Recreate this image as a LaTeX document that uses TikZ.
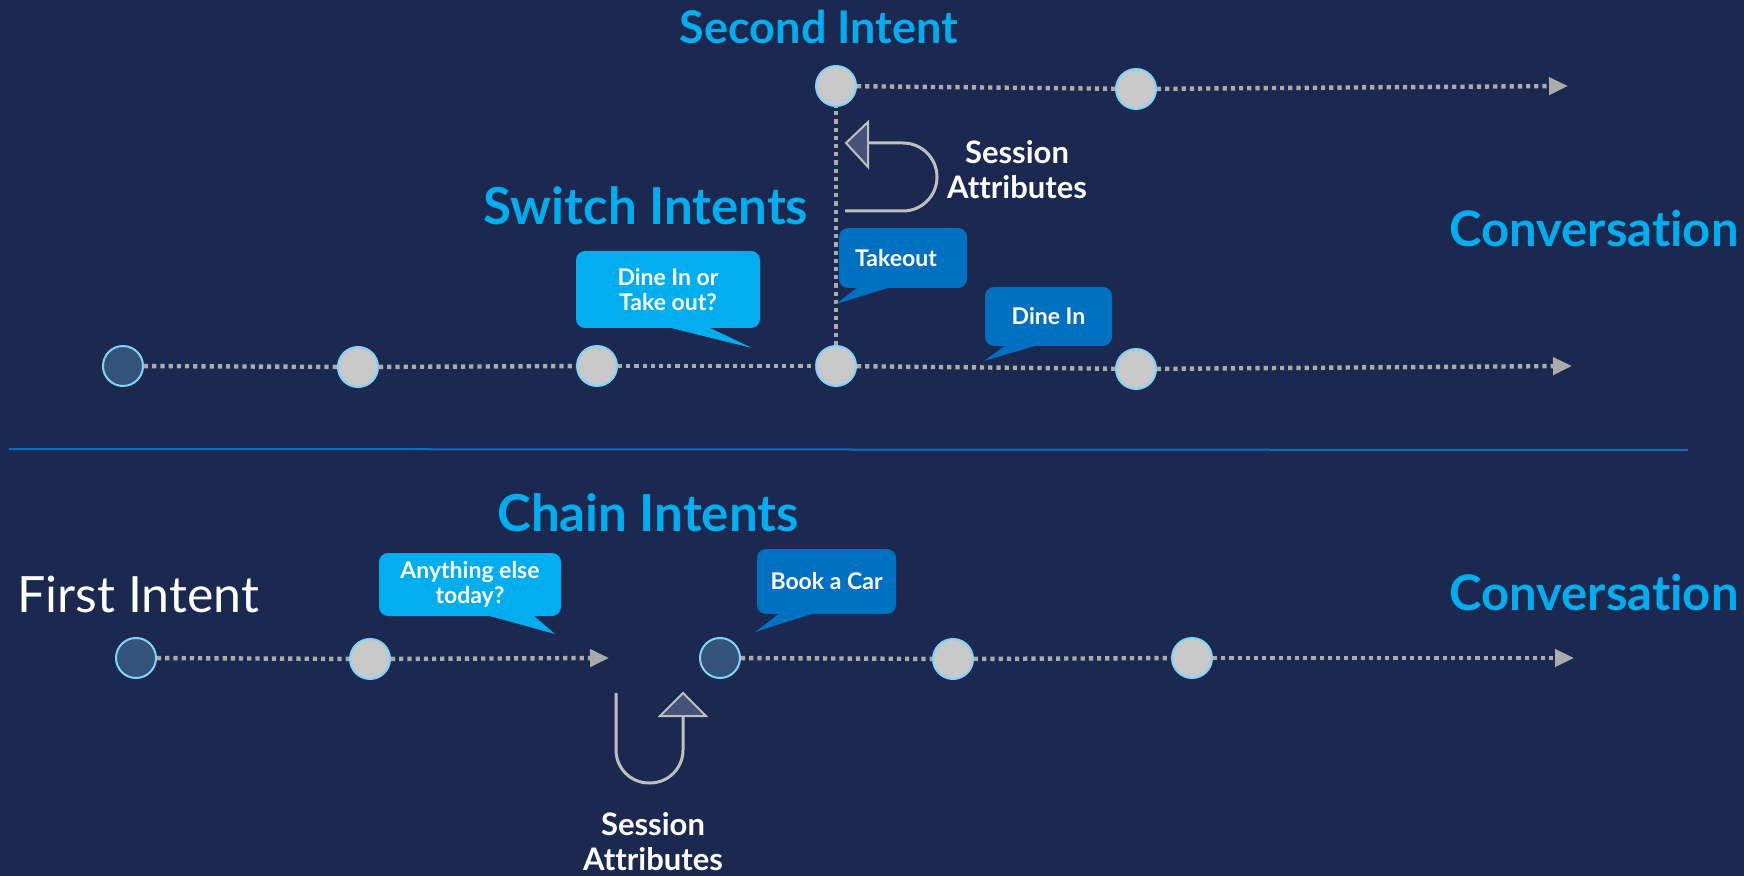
\documentclass[tikz,border=0pt]{standalone}
\usepackage{fontspec}
\setmainfont{Lato}[Ligatures=NoCommon]
\usepackage{tikz}
\usetikzlibrary{arrows.meta}

\definecolor{navy}{HTML}{1B2850}
\definecolor{skyblue}{HTML}{00AEEF}
\definecolor{deepblue}{HTML}{0070C0}
\definecolor{dotgrey}{HTML}{ABABAB}
\definecolor{pointgrey}{HTML}{C8C8C8}
\definecolor{pointedge}{HTML}{7FD4F8}
\definecolor{pointdark}{HTML}{34537B}
\definecolor{headfill}{HTML}{465277}
\definecolor{turngrey}{HTML}{BFBFBF}

\tikzset{
  waypoint/.style={circle, minimum size=20pt, inner sep=0pt, fill=pointgrey, draw=pointedge, line width=1pt},
  startpoint/.style={waypoint, fill=pointdark},
  dotline/.style={draw=dotgrey, line width=2.2pt, dash pattern=on 2.1pt off 2pt},
  dotarrow/.style={dotline, -{Triangle[length=9.5pt,width=8.5pt,fill=dotgrey]}},
  headline/.style={text=skyblue, inner sep=0pt, font=\bfseries\fontsize{24.5}{28}\selectfont},
  note/.style={text=white, align=center, inner sep=0pt, font=\bfseries\fontsize{15.5}{17.5}\selectfont},
  bubble/.style={fill=skyblue, text=white, rounded corners=4.5pt, align=center, inner sep=0pt, font=\bfseries\fontsize{11.5}{12.5}\selectfont},
  turn/.style={draw=turngrey, line width=1.5pt},
  turnhead/.style={fill=headfill, draw=turngrey, line width=1pt, line join=miter}
}

\begin{document}
\begin{tikzpicture}[x=0.5pt, y=-0.5pt]
  \useasboundingbox[fill=navy] (0,0) rectangle (1744,876);

  % titles
  \node[headline, font=\bfseries\fontsize{22.5}{26}\selectfont] (second) at (819,27) {Second Intent};
  \node[headline, font=\bfseries\fontsize{25.5}{29}\selectfont] (switch) at (646,206) {Switch Intents};
  \node[headline, font=\bfseries\fontsize{25.5}{29}\selectfont] (chain) at (648,513) {Chain Intents};
  \node[headline, anchor=east] (conv-top) at (1739,229) {Conversation};
  \node[headline, anchor=east] (conv-bot) at (1739,593) {Conversation};
  \node[text=white, anchor=west, inner sep=0pt, font=\fontsize{25}{29}\selectfont] (first) at (17,594) {First Intent};

  % switch intents
  \node[waypoint] (s-1) at (836,86) {};
  \node[waypoint] (s-2) at (1136,89) {};
  \coordinate (s-end) at (1568,86);
  \node[startpoint] (m-1) at (123,366) {};
  \node[waypoint] (m-2) at (358,367) {};
  \node[waypoint] (m-3) at (597,366) {};
  \node[waypoint] (m-4) at (836,366) {};
  \node[waypoint] (m-5) at (1136,369) {};
  \coordinate (m-end) at (1572,366);
  \path[dotline]
    (s-1) edge (s-2)
    (m-1) edge (m-2)
    (m-2) edge (m-3)
    (m-3) edge (m-4)
    (m-4) edge (m-5)
    (m-4) edge (s-1)
  ;
  \path[dotarrow] (s-2) edge (s-end) (m-5) edge (m-end);

  \node[bubble, minimum width=92pt, minimum height=38.5pt] (ask) at (668,289.5) {Dine In or\\Take out?};
  \fill[skyblue] (667,327) -- (752,348) -- (708,327) -- cycle;
  \node[bubble, fill=deepblue, minimum width=64pt, minimum height=30pt] (takeout) at (903,258) {Takeout\hspace*{7pt}};
  \fill[deepblue] (858,287) -- (836,304) -- (891,287) -- cycle;
  \node[bubble, fill=deepblue, minimum width=63.5pt, minimum height=29.5pt] (dinein) at (1048.5,316.5) {Dine In};
  \fill[deepblue] (1006,345) -- (984,361) -- (1038,345) -- cycle;

  \draw[turn, rounded corners=17pt] (845,211) -- (937,211) -- (937,143) -- (868,143);
  \filldraw[turnhead] (846,143) -- (868,122) -- (868,167) -- cycle;
  \node[note] (sess-top) at (1017,170) {Session\\Attributes};

  \draw[deepblue, line width=1pt] (9,449) -- (1688,450);

  % chain intents
  \node[startpoint] (b-1) at (136,658) {};
  \node[waypoint] (b-2) at (370,659) {};
  \coordinate (b-stop) at (609,658);
  \node[startpoint] (b-3) at (720,658) {};
  \node[waypoint] (b-4) at (953,659) {};
  \node[waypoint] (b-5) at (1192,658) {};
  \coordinate (b-end) at (1574,658);
  \path[dotline]
    (b-1) edge (b-2)
    (b-3) edge (b-4)
    (b-4) edge (b-5)
  ;
  \path[dotarrow] (b-2) edge (b-stop) (b-5) edge (b-end);

  \node[bubble, minimum width=91pt, minimum height=31.5pt] (more) at (470,584.5) {Anything else\\today?};
  \fill[skyblue] (486,615) -- (555,634) -- (533,615) -- cycle;
  \node[bubble, fill=deepblue, minimum width=69.5pt, minimum height=32.5pt] (car) at (826.5,581.5) {Book a Car};
  \fill[deepblue] (780,613) -- (755,632) -- (815,613) -- cycle;

  \draw[turn, rounded corners=16.5pt] (616,693) -- (616,783) -- (683,783) -- (683,716);
  \filldraw[turnhead] (683,693) -- (660,716) -- (706,716) -- cycle;
  \node[note] (sess-bot) at (653,842) {Session\\Attributes};
\end{tikzpicture}
\end{document}
